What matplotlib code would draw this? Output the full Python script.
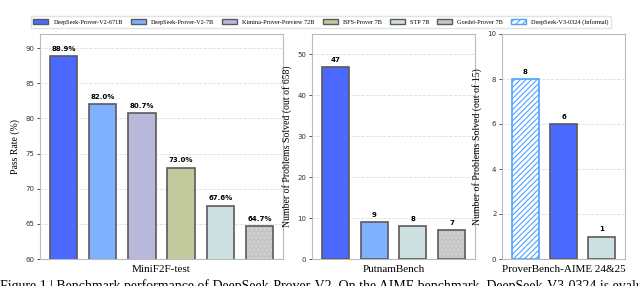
import numpy as np
import matplotlib

matplotlib.use("Agg")
import matplotlib.pyplot as plt
from matplotlib.patches import Patch

# --- data -------------------------------------------------------------------
models = ["DeepSeek-Prover-V2-671B", "DeepSeek-Prover-V2-7B", "Kimina-Prover-Preview 72B",
          "BFS-Prover 7B", "STP 7B", "Goedel-Prover 7B", "DeepSeek-V3-0324 (Informal)"]
colors = {
    "DeepSeek-Prover-V2-671B": "#4c69ff",
    "DeepSeek-Prover-V2-7B": "#7fb1ff",
    "Kimina-Prover-Preview 72B": "#b8b8da",
    "BFS-Prover 7B": "#c2c99d",
    "STP 7B": "#cce0df",
    "Goedel-Prover 7B": "#c6c6c6",
    "DeepSeek-V3-0324 (Informal)": "white",
}

minif2f_models = models[:6]
minif2f_rate = [88.9, 82.0, 80.7, 73.0, 67.6, 64.7]

putnam_models = ["DeepSeek-Prover-V2-671B", "DeepSeek-Prover-V2-7B", "STP 7B", "Goedel-Prover 7B"]
putnam_solved = [47, 9, 8, 7]

aime_models = ["DeepSeek-V3-0324 (Informal)", "DeepSeek-Prover-V2-671B", "STP 7B"]
aime_solved = [8, 6, 1]

EDGE = "#5a5a5a"
HATCH_BLUE = "#4da3ff"
SERIF = ["Liberation Serif", "DejaVu Serif"]

plt.rcParams["hatch.linewidth"] = 0.8

fig = plt.figure(figsize=(6.4, 2.86), dpi=100)
W, H = 640, 286


def axes_px(l, t, r, b):
    return fig.add_axes([l / W, 1 - b / H, (r - l) / W, (b - t) / H])


def draw_bars(ax, names, values, fmt):
    x = np.arange(len(names))
    for xi, name, v in zip(x, names, values):
        if name == "DeepSeek-V3-0324 (Informal)":
            ax.bar(xi, v, 0.7, color="white", edgecolor=HATCH_BLUE, hatch="//////",
                   linewidth=1.2, zorder=3)
        elif name == "Goedel-Prover 7B":
            ax.bar(xi, v, 0.7, color=colors[name], edgecolor="#d8d8d8", hatch="....",
                   linewidth=0, zorder=3)
            ax.bar(xi, v, 0.7, color="none", edgecolor=EDGE, linewidth=1.2, zorder=4)
        else:
            ax.bar(xi, v, 0.7, color=colors[name], edgecolor=EDGE, linewidth=1.2, zorder=3)
        ax.annotate(fmt.format(v), (xi, v), xytext=(0, 3), textcoords="offset points",
                    ha="center", va="bottom", fontsize=5, fontweight="bold")
    ax.set_xticks([])
    ax.set_xlim(-0.6, len(names) - 0.4)
    ax.grid(axis="y", linestyle="--", color="#dddddd", linewidth=0.6, zorder=0)
    ax.tick_params(axis="y", labelsize=5, length=2.5, width=0.6, pad=1.5, colors="#333333")
    for s in ax.spines.values():
        s.set_color("#bbbbbb")
        s.set_linewidth(0.8)


ax1 = axes_px(40, 34, 283, 259)
draw_bars(ax1, minif2f_models, minif2f_rate, "{:.1f}%")
ax1.set_ylim(60, 92)
ax1.set_yticks([60, 65, 70, 75, 80, 85, 90])
ax1.set_xlabel("MiniF2F-test", family=SERIF, fontsize=8, labelpad=4)
ax1.set_ylabel("Pass Rate (%)", family=SERIF, fontsize=7, labelpad=4)

ax2 = axes_px(312, 34, 475, 259)
draw_bars(ax2, putnam_models, putnam_solved, "{:d}")
ax2.set_ylim(0, 55)
ax2.set_yticks([0, 10, 20, 30, 40, 50])
ax2.set_xlabel("PutnamBench", family=SERIF, fontsize=8, labelpad=4)
ax2.set_ylabel("Number of Problems Solved (out of 658)", family=SERIF, fontsize=7, labelpad=4)

ax3 = axes_px(502, 34, 625, 259)
draw_bars(ax3, aime_models, aime_solved, "{:d}")
ax3.set_ylim(0, 10)
ax3.set_yticks([0, 2, 4, 6, 8, 10])
ax3.set_xlabel("ProverBench-AIME 24&25", family=SERIF, fontsize=8, labelpad=4)
ax3.set_ylabel("Number of Problems Solved (out of 15)", family=SERIF, fontsize=7, labelpad=4)

handles = []
for name in models:
    if name == "DeepSeek-V3-0324 (Informal)":
        handles.append(Patch(facecolor="white", edgecolor=HATCH_BLUE, hatch="/////", label=name))
    else:
        handles.append(Patch(facecolor=colors[name], edgecolor=EDGE, label=name))
fig.legend(handles=handles, loc="center", bbox_to_anchor=(321 / W, 1 - 22 / H), ncol=7,
           prop={"family": SERIF, "size": 4.5}, frameon=True, fancybox=False,
           edgecolor="#dddddd", handlelength=2.4, handleheight=0.9, columnspacing=1.3,
           handletextpad=0.8, borderpad=0.45)

fig.text(0.0, 1 - 279 / H, "Figure 1 | Benchmark performance of DeepSeek-Prover-V2. On the AIME "
         "benchmark, DeepSeek-V3-0324 is evaluated using the standard find-answer task",
         family=SERIF, fontsize=10, ha="left", va="top")

fig.savefig("out.png", dpi=100)
